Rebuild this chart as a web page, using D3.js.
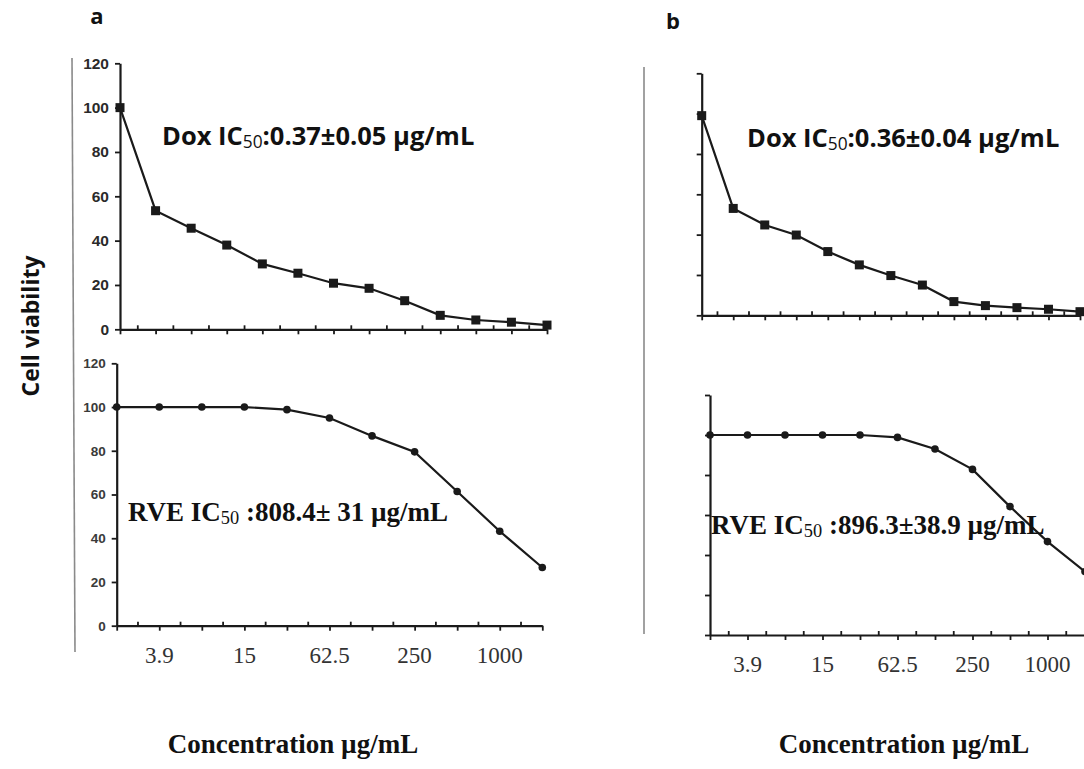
<!DOCTYPE html>
<html><head><meta charset="utf-8">
<script src="https://cdn.jsdelivr.net/npm/d3@7"></script>
<style>body{margin:0;background:#fff}svg{display:block}</style>
</head><body>
<svg id="c" width="1084" height="769"></svg>
<script>
// ---- data ----
const doxSteps = ["1","2","3","4","5","6","7","8","9","10","11","12","13"];
const rveConc = ["1.95","3.9","7.8","15","31.25","62.5","125","250","500","1000","2000"];
const xTickLabels = ["3.9","15","62.5","250","1000"];
const yTicks = [0,20,40,60,80,100,120];
const doxA = [100,53.5,45.6,38,29.5,25.3,20.8,18.5,12.9,6.3,4.2,3.2,1.9];
const rveA = [100,100,100,100,98.8,95,86.8,79.5,61.4,43.2,26.6];
const doxB = [99,53,44.8,39.8,31.6,25,19.7,15,6.8,4.8,3.8,3.0,1.8];
const rveB = [100,100,100,100,100,98.8,93,82.8,64.2,46.7,31.7];
const panelLetters = ["a","b"];
const doxLabels = [["Dox IC","50",":0.37±0.05 µg/mL"],["Dox IC","50",":0.36±0.04 µg/mL"]];
const rveLabels = [["RVE IC","50"," :808.4± 31 µg/mL"],["RVE IC","50"," :896.3±38.9 µg/mL"]];

const svg = d3.select("#c");
const ink = "#1a1a1a";

function panel(cfg){
  const g = svg.append("g");
  const x = d3.scalePoint().domain(cfg.cats).range([cfg.x0, cfg.x1]);
  const y = d3.scaleLinear().domain([0,120]).range([cfg.y0, cfg.y1]);
  // y axis
  const ya = d3.axisLeft(y).tickValues(yTicks).tickSize(5).tickSizeOuter(0)
    .tickFormat(cfg.yLabels ? d3.format("d") : "");
  const yg = g.append("g").attr("transform",`translate(${cfg.x0},0)`).call(ya);
  yg.select(".domain").attr("stroke",ink).attr("stroke-width",2.2);
  yg.selectAll(".tick line").attr("stroke",ink).attr("stroke-width",1.8);
  yg.selectAll(".tick text").attr("font-family","Liberation Sans, Arial, sans-serif")
    .attr("font-weight","bold").attr("font-size",cfg.yFont||13)
    .attr("fill",cfg.yColor||"#2a2a2a").attr("x",-11);
  // x axis
  const xa = d3.axisBottom(x).tickSize(5).tickSizeOuter(0).tickFormat("");
  const xg = g.append("g").attr("transform",`translate(0,${cfg.y0})`).call(xa);
  xg.select(".domain").attr("stroke",ink).attr("stroke-width",2.2);
  xg.selectAll(".tick line").attr("stroke",ink).attr("stroke-width",1.8);
  // minor ticks between categories (pointing up)
  const pos = cfg.cats.map(c=>x(c));
  const mids = pos.slice(1).map((p,i)=>(p+pos[i])/2);
  g.selectAll(null).data(mids).join("line")
    .attr("x1",d=>d).attr("x2",d=>d).attr("y1",cfg.y0).attr("y2",cfg.y0-4)
    .attr("stroke",ink).attr("stroke-width",1.8);
  // x labels
  if(cfg.xLabels){
    g.selectAll(null).data(cfg.cats.filter(c=>xTickLabels.includes(c))).join("text")
      .attr("x",d=>x(d)).attr("y",cfg.y0+37).attr("text-anchor","middle")
      .attr("font-family","Liberation Serif, Times New Roman, serif").attr("font-size",23)
      .attr("fill","#333").text(d=>d);
  }
  // line
  const data = cfg.vals.map((v,i)=>({c:cfg.cats[i],v}));
  g.append("path").datum(data)
    .attr("d",d3.line().x(d=>x(d.c)).y(d=>y(d.v)))
    .attr("fill","none").attr("stroke",ink).attr("stroke-width",2.2);
  if(cfg.marker==="square"){
    g.selectAll(null).data(data).join("rect")
      .attr("x",d=>x(d.c)-4.5).attr("y",d=>y(d.v)-4.5).attr("width",9).attr("height",9)
      .attr("fill",ink);
  } else {
    g.selectAll(null).data(data).join("circle")
      .attr("cx",d=>x(d.c)).attr("cy",d=>y(d.v)).attr("r",3.8).attr("fill",ink);
  }
  return {x,y};
}

panel({cats:doxSteps, vals:doxA, x0:120, x1:547, y0:329.3, y1:63.3, yLabels:true, yFont:15.5, marker:"square"});
panel({cats:rveConc, vals:rveA, x0:116.7, x1:542.3, y0:625.7, y1:363.3, yLabels:true, yFont:13.5, yColor:"#3a3a3a", marker:"circle", xLabels:true});
panel({cats:doxSteps, vals:doxB, x0:701.7, x1:1080, y0:315.3, y1:73.3, yLabels:false, marker:"square"});
panel({cats:rveConc, vals:rveB, x0:710, x1:1085, y0:635, y1:395, yLabels:false, marker:"circle", xLabels:true});

// annotations
function sub(t, parts, fs){
  t.append("tspan").text(parts[0]);
  t.append("tspan").text(parts[1]).attr("font-size",fs*0.68).attr("dy",fs*0.12).attr("font-weight","normal");
  t.append("tspan").text(parts[2]).attr("dy",-fs*0.12);
}
const doxPos = [[162,145],[747,147]];
doxLabels.forEach((p,i)=>{
  const t = svg.append("text").attr("x",doxPos[i][0]).attr("y",doxPos[i][1])
    .attr("font-family","Open Sans, sans-serif").attr("font-weight","bold").attr("font-size",25.5)
    .attr("fill","#111").style("white-space","pre");
  sub(t,p,25.5);
});
const rvePos = [[128,521],[711,534]];
rveLabels.forEach((p,i)=>{
  const t = svg.append("text").attr("x",rvePos[i][0]).attr("y",rvePos[i][1])
    .attr("font-family","Liberation Serif, Times New Roman, serif").attr("font-weight","bold").attr("font-size",27)
    .attr("fill","#111").style("white-space","pre");
  sub(t,p,27);
});

// panel letters
[[97,24],[673,29]].forEach((p,i)=>{
  svg.append("text").attr("x",p[0]).attr("y",p[1]).attr("text-anchor","middle")
    .attr("font-family","Open Sans, sans-serif").attr("font-weight","bold").attr("font-size",22)
    .attr("fill","#111").text(panelLetters[i]);
});

// separator lines
svg.append("line").attr("x1",72).attr("x2",75).attr("y1",58).attr("y2",652).attr("stroke","#8a8a8a").attr("stroke-width",1.6);
svg.append("line").attr("x1",644).attr("x2",644).attr("y1",67).attr("y2",634).attr("stroke","#8a8a8a").attr("stroke-width",1.6);

// y title
svg.append("text").attr("transform","translate(39,326) rotate(-90)").attr("text-anchor","middle")
  .attr("font-family","Open Sans, sans-serif").attr("font-weight","bold").attr("font-size",23)
  .attr("fill","#111").text("Cell viability");

// x titles
[293,904].forEach(cx=>{
  svg.append("text").attr("x",cx).attr("y",753).attr("text-anchor","middle")
    .attr("font-family","Liberation Serif, Times New Roman, serif").attr("font-weight","bold").attr("font-size",27)
    .attr("fill","#111").text("Concentration µg/mL");
});
</script>
</body></html>
